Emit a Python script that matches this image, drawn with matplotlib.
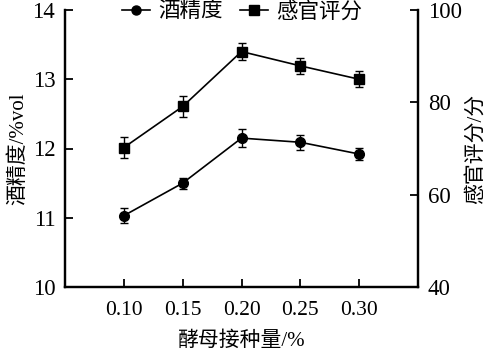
import matplotlib
matplotlib.use("Agg")
import matplotlib.pyplot as plt
from matplotlib.lines import Line2D

plt.rcParams['font.family'] = ['Liberation Serif', 'Noto Sans CJK SC']
plt.rcParams['axes.unicode_minus'] = False

dose = [0.10, 0.15, 0.20, 0.25, 0.30]
dose_labels = ["0.10", "0.15", "0.20", "0.25", "0.30"]
alcohol = [11.03, 11.50, 12.15, 12.09, 11.92]
alcohol_err = [0.11, 0.08, 0.13, 0.11, 0.09]
score = [70.2, 79.1, 91.0, 87.9, 85.0]
score_err = [2.3, 2.2, 1.8, 1.7, 1.7]

fig = plt.figure(figsize=(4.88, 3.53), dpi=100)
ax = fig.add_axes([65/488, 1-287/353, (418-65)/488, (287-10)/353])
ax2 = ax.twinx()

lw = 1.2
ax.errorbar(dose, alcohol, yerr=alcohol_err, color='black', marker='o', markersize=7,
            linewidth=lw, elinewidth=1.0, capsize=3, capthick=1.0, label='酒精度')
ax2.errorbar(dose, score, yerr=score_err, color='black', marker='s', markersize=7,
             linewidth=lw, elinewidth=1.0, capsize=3, capthick=1.0, label='感官评分')

ax.set_xlim(0.05, 0.35)
ax.set_ylim(10, 14)
ax2.set_ylim(40, 100)
ax.set_xticks(dose)
ax.set_xticklabels(dose_labels)
ax.set_yticks([10, 11, 12, 13, 14])
ax2.set_yticks([40, 60, 80, 100])

for a in (ax, ax2):
    a.spines['top'].set_visible(False)
    for s in ('left', 'right', 'bottom'):
        a.spines[s].set_linewidth(1.6)
ax.tick_params(axis='both', direction='in', length=6, width=1.3, labelsize=16.5, pad=7)
ax.tick_params(axis='x', pad=10, labelsize=15.5)
ax2.tick_params(axis='y', direction='in', length=6, width=1.3, labelsize=16.5, pad=7)

ax.set_xlabel('酵母接种量/%', fontsize=15, labelpad=8)
ax.set_ylabel('酒精度/%vol', fontsize=15, labelpad=3)
ax2.set_ylabel('感官评分/分', fontsize=15, labelpad=3)

handles = [Line2D([], [], color='black', marker='o', markersize=6.5, linewidth=lw),
           Line2D([], [], color='black', marker='s', markersize=6.5, linewidth=lw)]
fig.legend(handles, ['酒精度', '感官评分'], loc='center', bbox_to_anchor=(242/488, 1-12/353),
           ncol=2, frameon=False, fontsize=15.5, handlelength=1.3, handletextpad=0.4,
           columnspacing=0.8, borderpad=0.0)

fig.savefig('out.png', dpi=100)
